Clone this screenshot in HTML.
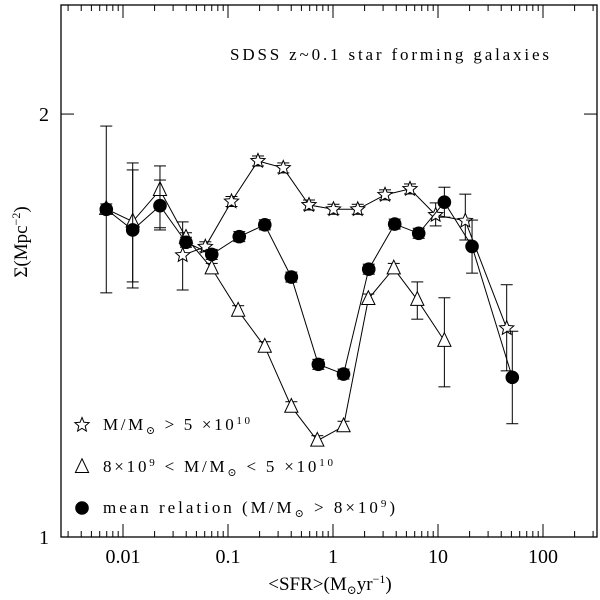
<!DOCTYPE html>
<html><head><meta charset="utf-8"><style>
html,body{margin:0;padding:0;background:#fff;}
svg{display:block;font-family:"Liberation Serif","DejaVu Serif",serif;}
</style></head><body>
<svg id="chart" width="600" height="600" viewBox="0 0 600 600"></svg>
<script>
const circleX=[0.00693,0.01237,0.0225,0.0398,0.0700,0.128,0.224,0.401,0.725,1.26,2.19,3.87,6.55,11.5,21.1,51.0];
const circleY=[1.711,1.654,1.721,1.621,1.589,1.636,1.668,1.531,1.327,1.306,1.551,1.670,1.645,1.731,1.610,1.299];
const circleLo=[1.492,1.519,1.660,null,null,null,null,null,null,null,null,null,null,1.689,1.541,1.204];
const circleHi=[1.961,1.825,1.795,null,null,null,null,null,null,null,null,null,null,1.774,1.681,1.401];
const starX=[0.0370,0.0608,0.108,0.193,0.336,0.591,1.01,1.72,3.13,5.41,9.50,18.2,45.1];
const starY=[1.587,1.609,1.733,1.852,1.831,1.723,1.711,1.711,1.752,1.769,1.695,1.679,1.408];
const starLo=[1.499,null,null,null,null,null,null,null,null,null,1.665,1.627,1.313];
const starHi=[1.676,null,null,null,null,null,null,null,null,null,1.729,1.754,1.512];
const triX=[0.00693,0.01237,0.0225,0.0398,0.0700,0.125,0.224,0.401,0.709,1.26,2.17,3.79,6.35,11.5];
const triY=[1.712,1.677,1.766,1.633,1.553,1.449,1.366,1.238,1.171,1.199,1.477,1.553,1.475,1.379];
const triLo=[null,1.504,1.654,null,null,null,null,null,null,null,null,null,1.429,1.279];
const triHi=[null,1.846,1.837,null,null,null,null,null,null,null,null,null,1.519,1.480];
const xTickVals=[0.01,0.1,1,10,100];
const xTickLabels=["0.01","0.1","1","10","100"];
const yTickVals=[1,2];
const yTickLabels=["1","2"];

const L=61,R=597,T=5,B=537;
const X=v=>333+105*Math.log10(v);
const Y=v=>537-1405*Math.log10(v);
const NS="http://www.w3.org/2000/svg";
const svg=document.getElementById('chart');
function mk(tag,attrs,parent){const e=document.createElementNS(NS,tag);for(const k in attrs)e.setAttribute(k,attrs[k]);(parent||svg).appendChild(e);return e;}

const frame=mk('rect',{x:L,y:T,width:R-L,height:B-T,fill:'none',stroke:'#000','stroke-width':1.3});



const xt=mk('g',{stroke:'#000','stroke-width':1});


for(let d=-3;d<=2;d++){for(let m=1;m<=9;m++){const v=m*Math.pow(10,d);const x=X(v);if(x<L||x>R)continue;const len=m===1?13:6;
 mk('line',{x1:x,y1:B,x2:x,y2:B-len},xt);mk('line',{x1:x,y1:T,x2:x,y2:T+len},xt);}}
xTickVals.forEach((v,i)=>{const t=mk('text',{x:X(v),y:563,'font-size':20,'text-anchor':'middle'});t.textContent=xTickLabels[i];
 
 });
yTickVals.forEach((v,i)=>{const y=Y(v);mk('line',{x1:L,y1:y,x2:L+13,y2:y,stroke:'#000'});mk('line',{x1:R,y1:y,x2:R-13,y2:y,stroke:'#000'});
 const t=mk('text',{x:49,y:y+7,'font-size':20,'text-anchor':'end'});t.textContent=yTickLabels[i];
 
 });

const xtitle=mk('text',{x:330,y:590,'font-size':19,'text-anchor':'middle'});
xtitle.innerHTML='&lt;SFR&gt;(M<tspan font-size="12" dy="4">⊙</tspan><tspan dy="-4">yr</tspan><tspan font-size="12" dy="-7">−1</tspan><tspan dy="7">)</tspan>';


const ytitle=mk('text',{x:0,y:0,'font-size':19,'text-anchor':'middle',transform:'translate(27,242) rotate(-90)'});
ytitle.innerHTML='Σ(Mpc<tspan font-size="12" dy="-7">−2</tspan><tspan dy="7">)</tspan>';


const title=mk('text',{x:230,y:60,'font-size':17,textLength:319,lengthAdjust:'spacing'});
title.textContent='SDSS z~0.1 star forming galaxies';



function starPath(cx,cy,r){let p='';for(let i=0;i<10;i++){const a=-Math.PI/2+i*Math.PI/5;const rr=i%2?r*0.45:r;p+=(i?'L':'M')+(cx+rr*Math.cos(a)).toFixed(2)+' '+(cy+rr*Math.sin(a)).toFixed(2);}return p+'Z';}
function triPath(cx,cy,s){return `M${cx} ${cy-s*0.75}L${cx+s*0.6} ${cy+s*0.5}L${cx-s*0.6} ${cy+s*0.5}Z`;}

function series(name,xs,ys,lo,hi,kind){
 const g=mk('g',{});
 
 
 const pts=xs.map((v,i)=>X(v)+','+Y(ys[i])).join(' ');
 mk('polyline',{points:pts,fill:'none',stroke:'#000','stroke-width':1},g);
 xs.forEach((v,i)=>{const x=X(v),y=Y(ys[i]);
  const yl=lo[i]==null?y+5:Y(lo[i]);const yh=hi[i]==null?y-5:Y(hi[i]);
  const eb=mk('g',{stroke:'#000','stroke-width':1},g);
  mk('line',{x1:x,y1:yl,x2:x,y2:yh},eb);mk('line',{x1:x-6,y1:yl,x2:x+6,y2:yl},eb);mk('line',{x1:x-6,y1:yh,x2:x+6,y2:yh},eb);
  
  
  let m;
  if(kind==='circle')m=mk('circle',{cx:x,cy:y,r:6.8,fill:'#000'},g);
  else if(kind==='star')m=mk('path',{d:starPath(x,y,7.5),fill:'#fff',stroke:'#000','stroke-width':1},g);
  else m=mk('path',{d:triPath(x,y,11),fill:'#fff',stroke:'#000','stroke-width':1},g);
  
  
 });
}
series('triangle-series',triX,triY,triLo,triHi,'tri');
series('star-series',starX,starY,starLo,starHi,'star');
series('mean-relation-series',circleX,circleY,circleLo,circleHi,'circle');

const lg=mk('g',{});


mk('path',{d:starPath(82,425,7.5),fill:'#fff',stroke:'#000'},lg);
mk('path',{d:triPath(82,467,11),fill:'#fff',stroke:'#000'},lg);
mk('circle',{cx:82,cy:508,r:6.8,fill:'#000'},lg);
const l1=mk('text',{x:103,y:430,'font-size':17,textLength:147,lengthAdjust:'spacing'},lg);
l1.innerHTML='M/M<tspan font-size="11" dy="4">⊙</tspan><tspan dy="-4"> &gt; 5 ×10</tspan><tspan font-size="11" dy="-6">10</tspan>';


const l2=mk('text',{x:103,y:472,'font-size':17,textLength:230,lengthAdjust:'spacing'},lg);
l2.innerHTML='8×10<tspan font-size="11" dy="-6">9</tspan><tspan dy="6"> &lt; M/M</tspan><tspan font-size="11" dy="4">⊙</tspan><tspan dy="-4"> &lt; 5 ×10</tspan><tspan font-size="11" dy="-6">10</tspan>';


const l3=mk('text',{x:103,y:513,'font-size':17,textLength:292,lengthAdjust:'spacing'},lg);
l3.innerHTML='mean relation (M/M<tspan font-size="11" dy="4">⊙</tspan><tspan dy="-4"> &gt; 8×10</tspan><tspan font-size="11" dy="-6">9</tspan><tspan dy="6">)</tspan>';


</script>
</body></html>
